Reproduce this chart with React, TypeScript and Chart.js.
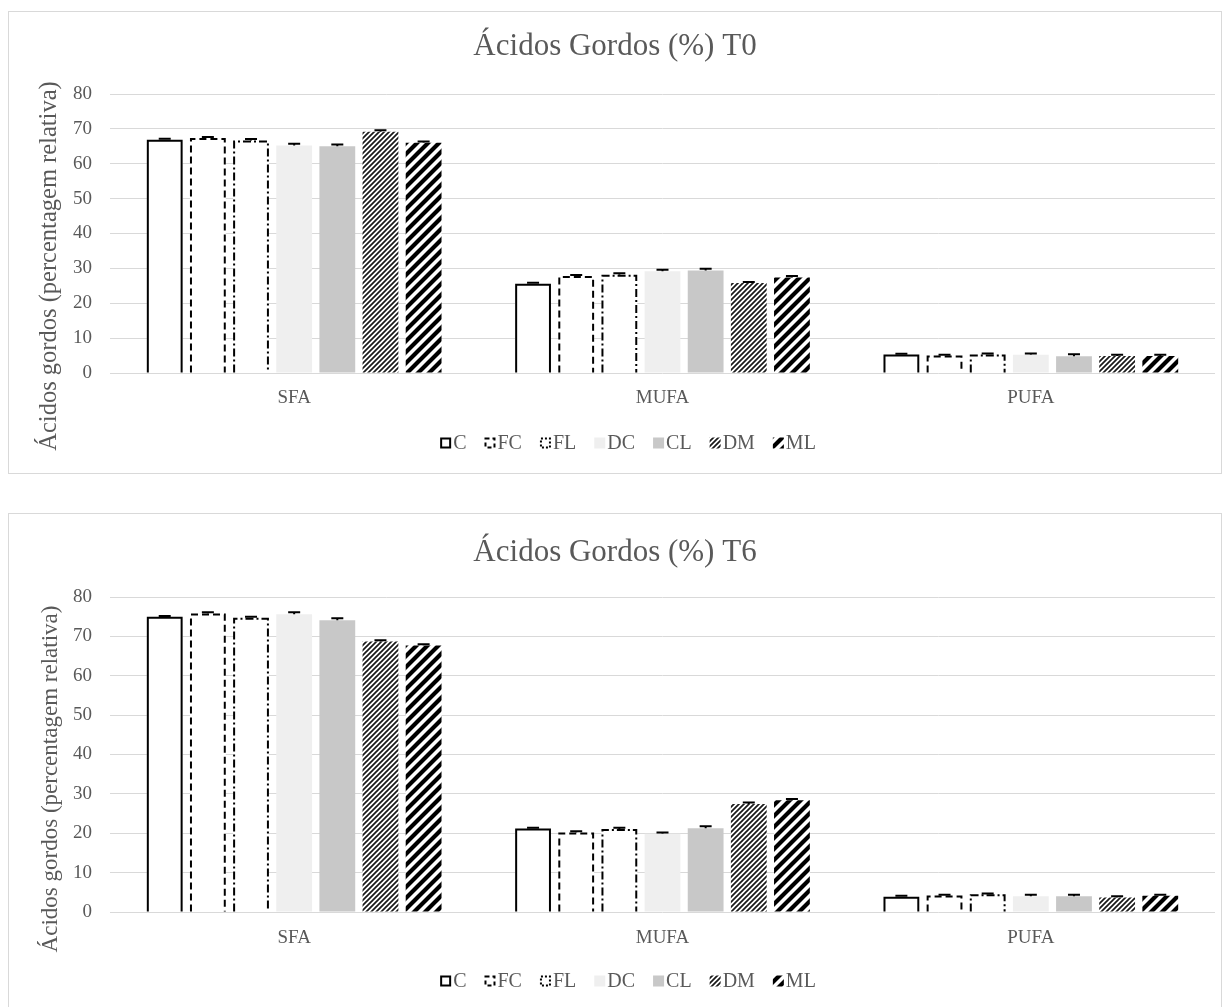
import React, { useEffect, useRef } from "react";
import { Chart, registerables } from "chart.js";

Chart.register(...registerables);

// ---------- data ----------
const categories = ["SFA", "MUFA", "PUFA"];
const seriesNames = ["C", "FC", "FL", "DC", "CL", "DM", "ML"];
const yMin = 0;
const yMax = 80;
const yStep = 10;
const yAxisTitle = "Ácidos gordos (percentagem relativa)";

// T0 – values per category, series order C, FC, FL, DC, CL, DM, ML
const t0SFA = [66.9, 67.4, 66.7, 65.2, 65.0, 69.2, 66.0];
const t0MUFA = [25.6, 27.8, 28.2, 29.2, 29.4, 25.8, 27.4];
const t0PUFA = [5.3, 5.0, 5.3, 5.2, 4.8, 4.9, 4.9];
const t0SFAErr = [0.3, 0.3, 0.4, 0.5, 0.5, 0.4, 0.4];
const t0MUFAErr = [0.3, 0.3, 0.4, 0.4, 0.5, 0.3, 0.4];
const t0PUFAErr = [0.2, 0.2, 0.3, 0.4, 0.6, 0.3, 0.3];

// T6
const t6SFA = [75.0, 75.8, 74.7, 75.6, 74.1, 68.7, 67.7];
const t6MUFA = [21.2, 20.2, 21.1, 19.9, 21.3, 27.4, 28.4];
const t6PUFA = [3.9, 4.2, 4.5, 4.0, 4.0, 3.7, 4.1];
const t6SFAErr = [0.2, 0.3, 0.3, 0.5, 0.5, 0.3, 0.3];
const t6MUFAErr = [0.2, 0.3, 0.3, 0.3, 0.5, 0.4, 0.3];
const t6PUFAErr = [0.2, 0.2, 0.2, 0.4, 0.4, 0.3, 0.3];

// ---------- styles ----------
const FONT = "'Liberation Serif', 'Times New Roman', serif";
const TEXT = "#595959";
const GRID = "#d9d9d9";

type SeriesStyle = {
  fill: string; // colour or "fine" / "bold" hatch
  dash: number[] | null; // outline dash (null = no outline)
  legendDash: number[];
};
const seriesStyles: SeriesStyle[] = [
  { fill: "#ffffff", dash: [], legendDash: [] },
  { fill: "#ffffff", dash: [7, 4], legendDash: [4, 3] },
  { fill: "#ffffff", dash: [8, 3, 2, 3], legendDash: [2, 2] },
  { fill: "#efefef", dash: null, legendDash: [] },
  { fill: "#c8c8c8", dash: null, legendDash: [] },
  { fill: "fine", dash: null, legendDash: [] },
  { fill: "bold", dash: null, legendDash: [] },
];

function hatch(size: number, lw: number, color: string): CanvasPattern | string {
  const c = document.createElement("canvas");
  c.width = size;
  c.height = size;
  const g = c.getContext("2d");
  if (!g) return color;
  g.fillStyle = "#ffffff";
  g.fillRect(0, 0, size, size);
  g.strokeStyle = color;
  g.lineWidth = lw;
  g.beginPath();
  for (let k = -2; k <= 2; k++) {
    // line through (k*size, size) and (k*size+size, 0), extended past the tile
    g.moveTo(k * size - size, 2 * size);
    g.lineTo(k * size + 2 * size, -size);
  }
  g.stroke();
  const p = g.createPattern(c, "repeat");
  return p || color;
}

const decorPlugin = {
  id: "decor",
  afterDatasetsDraw(chart: any) {
    const ctx = chart.ctx as CanvasRenderingContext2D;
    const yScale = chart.scales.y;
    chart.data.datasets.forEach((ds: any, i: number) => {
      const meta = chart.getDatasetMeta(i);
      meta.data.forEach((bar: any, j: number) => {
        const { x, y, base, width } = bar.getProps(["x", "y", "base", "width"], true);
        const left = x - width / 2;
        if (ds.outlineDash) {
          const lw = 2;
          ctx.save();
          ctx.strokeStyle = "#000";
          ctx.lineWidth = lw;
          ctx.setLineDash(ds.outlineDash);
          ctx.beginPath();
          ctx.moveTo(left + lw / 2, base);
          ctx.lineTo(left + lw / 2, y + lw / 2);
          ctx.lineTo(left + width - lw / 2, y + lw / 2);
          ctx.lineTo(left + width - lw / 2, base);
          ctx.stroke();
          ctx.restore();
        }
        const err = ds.errors ? ds.errors[j] : 0;
        if (err) {
          const v = ds.data[j];
          const yTop = yScale.getPixelForValue(v + err);
          ctx.save();
          ctx.strokeStyle = "#000";
          ctx.lineWidth = 2;
          ctx.beginPath();
          ctx.moveTo(x, y);
          ctx.lineTo(x, yTop);
          ctx.moveTo(x - 6, yTop);
          ctx.lineTo(x + 6, yTop);
          ctx.stroke();
          ctx.restore();
        }
      });
    });
  },
};

type BoxLayout = {
  top: number;
  height: number;
  padBottom: number;
  titlePadTop: number;
  titlePadBottom: number;
  xHeight: number;
  xTickPad: number;
  yTitleX: number;
  yTitleY: number;
  yTitleSize: number;
  legendX: number;
  legendY: number;
};

function makeOverlay(layout: BoxLayout) {
  return {
    id: "overlay",
    afterDraw(chart: any) {
      const ctx = chart.ctx as CanvasRenderingContext2D;
      // y axis title
      ctx.save();
      ctx.translate(layout.yTitleX, layout.yTitleY);
      ctx.rotate(-Math.PI / 2);
      ctx.font = `${layout.yTitleSize}px ${FONT}`;
      ctx.fillStyle = TEXT;
      ctx.textAlign = "center";
      ctx.textBaseline = "middle";
      ctx.fillText(yAxisTitle, 0, 0);
      ctx.restore();

      // legend
      const box = 11;
      const textGap = 2;
      const itemGap = 18;
      ctx.save();
      ctx.font = `20px ${FONT}`;
      const ds = chart.data.datasets as any[];
      const widths = ds.map((d) => ctx.measureText(d.label).width);
      const total =
        widths.reduce((a, b) => a + b, 0) + ds.length * (box + textGap) + (ds.length - 1) * itemGap;
      let x = layout.legendX - total / 2;
      const cy = layout.legendY;
      ds.forEach((d, i) => {
        ctx.fillStyle = d.backgroundColor;
        ctx.fillRect(x, cy - box / 2, box, box);
        if (d.outlineDash) {
          ctx.save();
          ctx.strokeStyle = "#000";
          ctx.lineWidth = 2;
          ctx.setLineDash(d.legendDash);
          ctx.strokeRect(x + 1, cy - box / 2 + 1, box - 2, box - 2);
          ctx.restore();
        }
        ctx.fillStyle = TEXT;
        ctx.textAlign = "left";
        ctx.textBaseline = "middle";
        ctx.fillText(d.label, x + box + textGap, cy + 1);
        x += box + textGap + widths[i] + itemGap;
      });
      ctx.restore();
    },
  };
}

function ChartBox(props: {
  title: string;
  sfa: number[];
  mufa: number[];
  pufa: number[];
  sfaErr: number[];
  mufaErr: number[];
  pufaErr: number[];
  layout: BoxLayout;
}) {
  const ref = useRef<HTMLCanvasElement | null>(null);
  const { layout } = props;
  const W = 1212;
  const H = layout.height - 2;

  useEffect(() => {
    if (!ref.current) return;
    const fine = hatch(5, 1.7, "#1a1a1a");
    const bold = hatch(11, 4.2, "#000000");
    const datasets = seriesNames.map((name, i) => {
      const st = seriesStyles[i];
      const bg = st.fill === "fine" ? fine : st.fill === "bold" ? bold : st.fill;
      return {
        label: name,
        data: [props.sfa[i], props.mufa[i], props.pufa[i]],
        errors: [props.sfaErr[i], props.mufaErr[i], props.pufaErr[i]],
        backgroundColor: bg,
        borderWidth: 0,
        outlineDash: st.dash,
        legendDash: st.legendDash,
        categoryPercentage: 0.82,
        barPercentage: 0.83,
      } as any;
    });

    const chart = new Chart(ref.current, {
      type: "bar",
      data: { labels: categories, datasets },
      plugins: [decorPlugin, makeOverlay(layout)],
      options: {
        responsive: false,
        animation: false,
        layout: { padding: { top: 6, left: 6, right: 6, bottom: layout.padBottom } },
        plugins: {
          tooltip: { enabled: false },
          legend: { display: false },
          title: {
            display: true,
            text: props.title,
            color: TEXT,
            font: { family: FONT, size: 31, weight: "normal" },
            padding: { top: layout.titlePadTop, bottom: layout.titlePadBottom },
          },
        },
        scales: {
          x: {
            grid: { display: false, drawTicks: false },
            border: { display: false },
            ticks: {
              color: TEXT,
              padding: layout.xTickPad,
              font: { family: FONT, size: 19 },
            },
            afterFit: (s: any) => {
              s.height = layout.xHeight;
            },
          },
          y: {
            min: yMin,
            max: yMax,
            grid: { color: GRID, lineWidth: 1, drawTicks: false },
            border: { display: false },
            ticks: {
              stepSize: yStep,
              color: TEXT,
              padding: 18,
              font: { family: FONT, size: 19 },
            },
            afterFit: (s: any) => {
              s.width = 95;
            },
          },
        },
      } as any,
    });
    return () => chart.destroy();
  }, []);

  return (
    <div
      style={{
        position: "absolute",
        left: 8,
        top: layout.top,
        width: 1214,
        height: layout.height,
        border: `1px solid ${GRID}`,
        boxSizing: "border-box",
        background: "#fff",
      }}
    >
      <canvas ref={ref} width={W} height={H} style={{ display: "block", width: W, height: H }} />
    </div>
  );
}

const topLayout: BoxLayout = {
  top: 11,
  height: 463,
  padBottom: 55,
  titlePadTop: 10.4,
  titlePadBottom: 28.4,
  xHeight: 45,
  xTickPad: 13.6,
  yTitleX: 41,
  yTitleY: 254,
  yTitleSize: 24.5,
  legendX: 619,
  legendY: 431,
};
const bottomLayout: BoxLayout = {
  top: 513,
  height: 497,
  padBottom: 53,
  titlePadTop: 14.4,
  titlePadBottom: 25.4,
  xHeight: 44,
  xTickPad: 14.6,
  yTitleX: 42,
  yTitleY: 265,
  yTitleSize: 23,
  legendX: 619,
  legendY: 467,
};

export default function App() {
  return (
    <div style={{ position: "fixed", inset: 0, overflow: "hidden", background: "#fff" }}>
      <ChartBox
        title="Ácidos Gordos (%) T0"
        sfa={t0SFA}
        mufa={t0MUFA}
        pufa={t0PUFA}
        sfaErr={t0SFAErr}
        mufaErr={t0MUFAErr}
        pufaErr={t0PUFAErr}
        layout={topLayout}
      />
      <ChartBox
        title="Ácidos Gordos (%) T6"
        sfa={t6SFA}
        mufa={t6MUFA}
        pufa={t6PUFA}
        sfaErr={t6SFAErr}
        mufaErr={t6MUFAErr}
        pufaErr={t6PUFAErr}
        layout={bottomLayout}
      />
    </div>
  );
}
